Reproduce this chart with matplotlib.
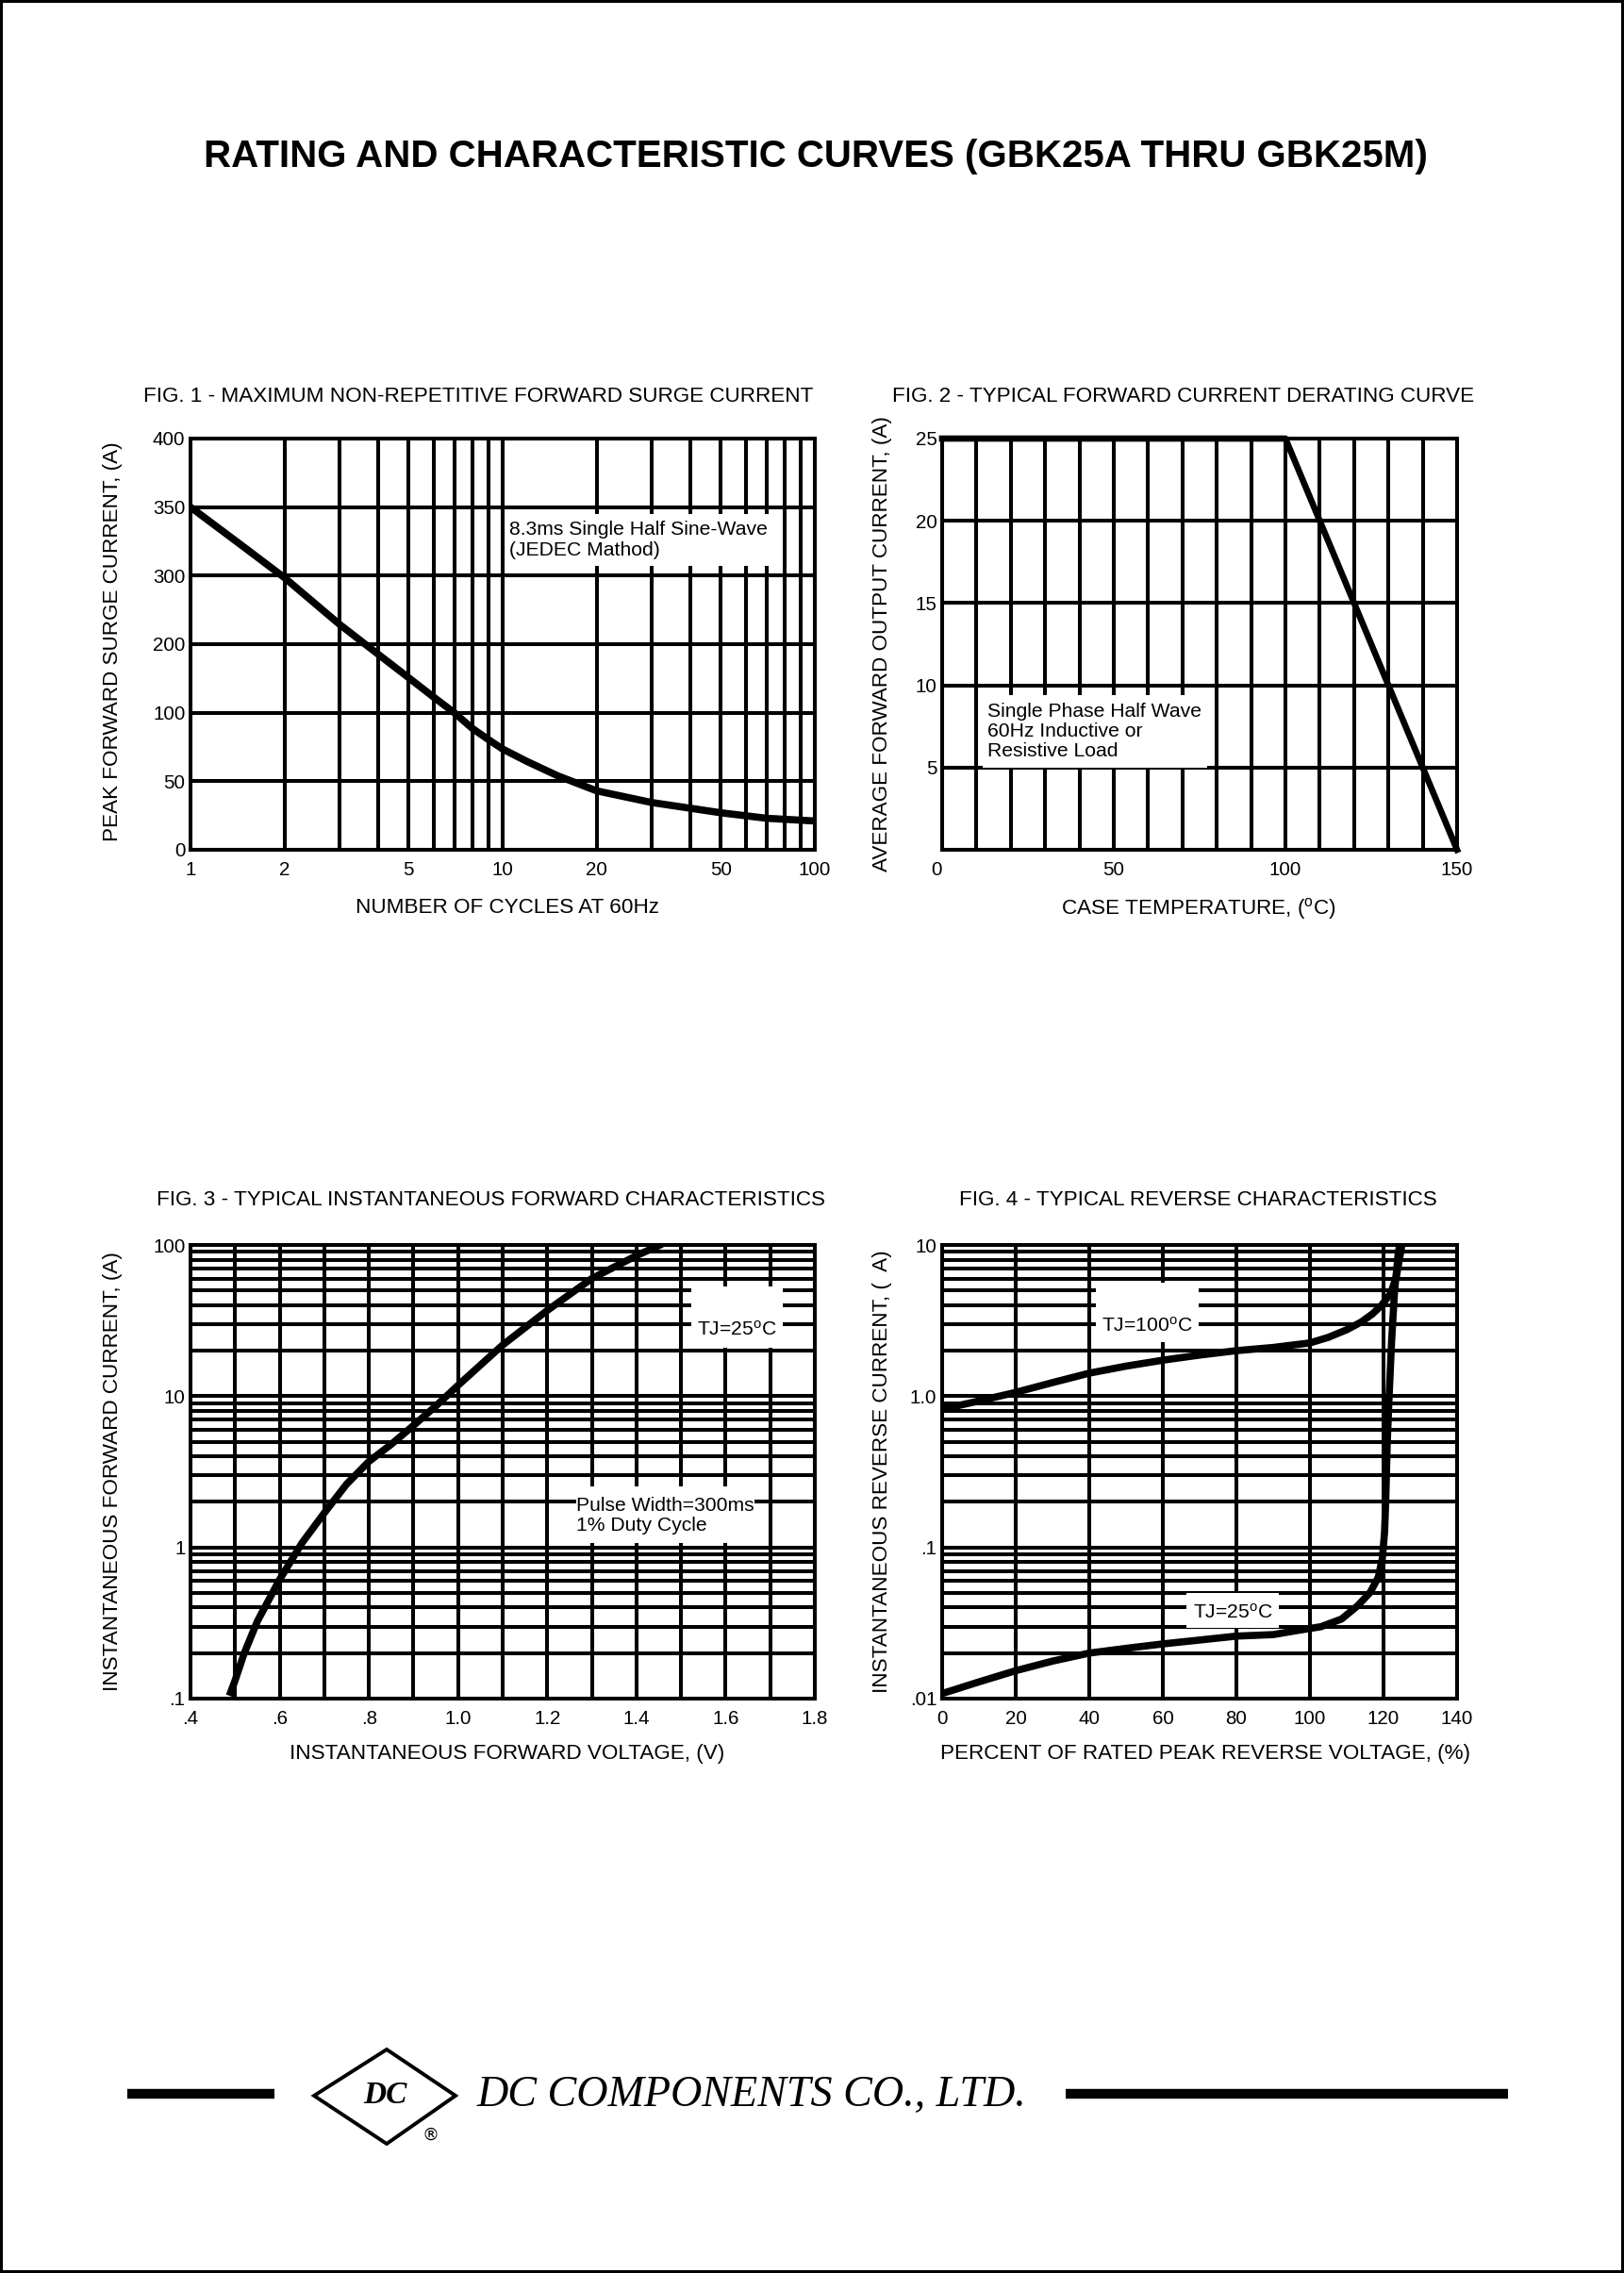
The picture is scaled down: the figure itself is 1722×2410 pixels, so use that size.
import numpy as np
import matplotlib
matplotlib.use('Agg')
import matplotlib.pyplot as plt
from matplotlib.path import Path
from matplotlib.patches import Polygon
from matplotlib.lines import Line2D
from matplotlib.ticker import FixedLocator, FixedFormatter, NullFormatter

plt.rcParams['font.family'] = ['Liberation Sans', 'DejaVu Sans']
plt.rcParams['mathtext.fontset'] = 'custom'
plt.rcParams['mathtext.rm'] = 'Liberation Sans'
plt.rcParams['mathtext.it'] = 'Liberation Sans'

# ---------------- data ----------------
# Fig 1: surge current vs cycles
fig1_cycles = [1, 1.5, 2, 3, 4, 5, 6, 7, 8, 9, 10, 12, 15, 20, 30, 50, 70, 100]
fig1_current = [350, 320, 297, 229, 185, 151, 123, 100, 88.5, 80.4, 73.5, 64.3, 54, 43,
                34.5, 27, 23, 21]
fig1_yticks = [0, 50, 100, 200, 300, 350, 400]
fig1_xticks = [1, 2, 5, 10, 20, 50, 100]
fig1_xminor = [3, 4, 6, 7, 8, 9, 30, 40, 60, 70, 80, 90]

# Fig 2: derating
fig2_temp = [0, 100, 150]
fig2_current = [25, 25, 0]
fig2_xticks = [0, 50, 100, 150]
fig2_xminor = [10, 20, 30, 40, 60, 70, 80, 90, 110, 120, 130, 140]
fig2_yticks = [0, 5, 10, 15, 20, 25]
fig2_ylabels = ['', '5', '10', '15', '20', '25']

# Fig 3: forward characteristics
fig3_voltage = [0.49, 0.5, 0.52, 0.55, 0.6, 0.65, 0.7, 0.75, 0.8, 0.85, 0.9, 0.95,
                1.0, 1.1, 1.2, 1.3, 1.4, 1.45]
fig3_current = [0.11, 0.132, 0.198, 0.325, 0.614, 1.07, 1.69, 2.62, 3.7, 4.8, 6.4, 8.6,
                11.8, 21.8, 36.9, 60, 85, 99]
fig3_xticks = [0.4, 0.6, 0.8, 1.0, 1.2, 1.4, 1.6, 1.8]
fig3_xlabels = ['.4', '.6', '.8', '1.0', '1.2', '1.4', '1.6', '1.8']
fig3_xminor = [0.5, 0.7, 0.9, 1.1, 1.3, 1.5, 1.7]
fig3_yticks = [0.1, 1, 10, 100]
fig3_ylabels = ['.1', '1', '10', '100']

# Fig 4: reverse characteristics
fig4_pct_100 = [0, 10, 20, 30, 40, 50, 60, 70, 80, 90, 100, 105, 110, 114, 117, 119.5,
                122, 123.5, 124.5, 125]
fig4_ir_100 = [0.82, 0.93, 1.06, 1.23, 1.42, 1.58, 1.73, 1.87, 2.0, 2.1, 2.25, 2.45,
               2.75, 3.1, 3.5, 4.0, 4.8, 6.2, 8.5, 10]
fig4_pct_25 = [0, 10, 20, 30, 40, 50, 60, 70, 80, 90, 96.5, 103, 108.6, 113, 116.4,
               118.6, 119.7, 120.3, 120.6, 121, 121.5, 122.2, 123, 124, 124.4]
fig4_ir_25 = [0.0108, 0.0129, 0.0153, 0.0177, 0.020, 0.0215, 0.023, 0.0244, 0.0259,
              0.0265, 0.0282, 0.0299, 0.0336, 0.0412, 0.0505, 0.0637, 0.085, 0.1276,
              0.203, 0.484, 0.97, 2.32, 4.93, 8.8, 10]
fig4_xticks = [0, 20, 40, 60, 80, 100, 120, 140]
fig4_yticks = [0.01, 0.1, 1, 10]
fig4_ylabels = ['.01', '.1', '1.0', '10']

# ---------------- layout ----------------
W, H = 1722, 2410
fig = plt.figure(figsize=(W / 100, H / 100), dpi=100, facecolor='white',
                 edgecolor='black', linewidth=3)


def axes_px(left, top, right, bottom):
    return fig.add_axes([left / W, 1 - bottom / H, (right - left) / W, (bottom - top) / H])


ax1 = axes_px(202, 465, 864, 901)
ax2 = axes_px(999, 465, 1545, 901)
ax3 = axes_px(202, 1320, 864, 1801)
ax4 = axes_px(999, 1320, 1545, 1801)

LW_GRID = 2.9
LW_CURVE = 5.5
FS_TICK = 14.8
FS_NOTE = 15.2
FS_LABEL = 16.2
FS_TITLE = 16.2


def pad_box(padx, pad_bottom, pad_top):
    def box(x0, y0, width, height, mutation_size):
        px = padx * mutation_size
        pb = pad_bottom * mutation_size
        pt = pad_top * mutation_size
        return Path([(x0 - px, y0 - pb), (x0 + width + px, y0 - pb),
                     (x0 + width + px, y0 + height + pt), (x0 - px, y0 + height + pt),
                     (x0 - px, y0 - pb)], closed=True)
    return box


def style(ax):
    ax.set_axisbelow(True)
    for s in ax.spines.values():
        s.set_linewidth(LW_GRID)
        s.set_color('black')
    ax.tick_params(which='both', length=0)
    ax.tick_params(axis='x', which='major', pad=9, labelsize=FS_TICK)
    ax.tick_params(axis='y', which='major', pad=4, labelsize=FS_TICK)
    ax.grid(which='both', color='black', linewidth=LW_GRID)


def boxed_text(ax, x, y, s, ha, padx, pb, pt, fs=FS_NOTE, va='center', ls=1.15):
    ax.text(x, y, s, ha=ha, va=va, fontsize=fs, zorder=3, linespacing=ls,
            bbox=dict(boxstyle=pad_box(padx, pb, pt), facecolor='white', edgecolor='none'))


# ---- Fig 1 ----
pos1 = np.arange(len(fig1_yticks))
ax1.set_xscale('log')
ax1.set_yscale('function', functions=(lambda v: np.interp(v, fig1_yticks, pos1),
                                      lambda p: np.interp(p, pos1, fig1_yticks)))
ax1.set_xlim(1, 100)
ax1.set_ylim(0, 400)
ax1.xaxis.set_major_locator(FixedLocator(fig1_xticks))
ax1.xaxis.set_major_formatter(FixedFormatter([str(v) for v in fig1_xticks]))
ax1.xaxis.set_minor_locator(FixedLocator(fig1_xminor))
ax1.xaxis.set_minor_formatter(NullFormatter())
ax1.yaxis.set_major_locator(FixedLocator(fig1_yticks))
ax1.yaxis.set_major_formatter(FixedFormatter([str(v) for v in fig1_yticks]))
ax1.yaxis.set_minor_locator(FixedLocator([]))
style(ax1)
ax1.plot(fig1_cycles, fig1_current, color='black', lw=LW_CURVE, solid_capstyle='butt',
         solid_joinstyle='round', zorder=2)
boxed_text(ax1, 10.5, 326, '8.3ms Single Half Sine-Wave\n(JEDEC Mathod)', 'left',
           0.2, 0.35, 0.35)

# ---- Fig 2 ----
ax2.set_xlim(0, 150)
ax2.set_ylim(0, 25)
ax2.xaxis.set_major_locator(FixedLocator(fig2_xticks))
ax2.xaxis.set_major_formatter(FixedFormatter([str(v) for v in fig2_xticks]))
ax2.xaxis.set_minor_locator(FixedLocator(fig2_xminor))
ax2.yaxis.set_major_locator(FixedLocator(fig2_yticks))
ax2.yaxis.set_major_formatter(FixedFormatter(fig2_ylabels))
style(ax2)
ax2.get_xticklabels()[0].set_horizontalalignment('right')
ax2.plot(fig2_temp, fig2_current, color='black', lw=4.8, clip_on=False, zorder=2)
boxed_text(ax2, 13.3, 7.2, 'Single Phase Half Wave\n60Hz Inductive or\nResistive Load',
           'left', 0.25, 0.35, 0.35)

# ---- Fig 3 ----
ax3.set_yscale('log')
ax3.set_xlim(0.4, 1.8)
ax3.set_ylim(0.1, 100)
ax3.xaxis.set_major_locator(FixedLocator(fig3_xticks))
ax3.xaxis.set_major_formatter(FixedFormatter(fig3_xlabels))
ax3.xaxis.set_minor_locator(FixedLocator(fig3_xminor))
ax3.yaxis.set_major_locator(FixedLocator(fig3_yticks))
ax3.yaxis.set_major_formatter(FixedFormatter(fig3_ylabels))
ax3.yaxis.set_minor_formatter(NullFormatter())
style(ax3)
ax3.plot(fig3_voltage, fig3_current, color='black', lw=LW_CURVE, solid_joinstyle='round',
         zorder=2)
boxed_text(ax3, 1.625, 27.5, 'TJ=25$^{\\rm o}$C', 'center', 0.3, 0.45, 1.7)
boxed_text(ax3, 1.266, 1.62, 'Pulse Width=300ms\n1% Duty Cycle', 'left', 0.0, 0.4, 0.5)

# ---- Fig 4 ----
ax4.set_yscale('log')
ax4.set_xlim(0, 140)
ax4.set_ylim(0.01, 10)
ax4.xaxis.set_major_locator(FixedLocator(fig4_xticks))
ax4.xaxis.set_major_formatter(FixedFormatter([str(v) for v in fig4_xticks]))
ax4.yaxis.set_major_locator(FixedLocator(fig4_yticks))
ax4.yaxis.set_major_formatter(FixedFormatter(fig4_ylabels))
ax4.yaxis.set_minor_formatter(NullFormatter())
style(ax4)
ax4.plot(fig4_pct_100, fig4_ir_100, color='black', lw=LW_CURVE, solid_joinstyle='round',
         zorder=2)
ax4.plot(fig4_pct_25, fig4_ir_25, color='black', lw=LW_CURVE, solid_joinstyle='round',
         zorder=2)
boxed_text(ax4, 55.8, 2.9, 'TJ=100$^{\\rm o}$C', 'center', 0.3, 0.3, 1.7)
boxed_text(ax4, 79, 0.037, 'TJ=25$^{\\rm o}$C', 'center', 0.3, 0.3, 0.5)

# ---- titles and axis labels ----
fig.text(865 / W, 1 - 166 / H, 'RATING AND CHARACTERISTIC CURVES (GBK25A THRU GBK25M)',
         ha='center', va='center', fontsize=29, fontweight='bold')


def ftext(x, y, s, **kw):
    fig.text(x / W, 1 - y / H, s, ha='center', va='center', **kw)


ftext(507, 421, 'FIG. 1 - MAXIMUM NON-REPETITIVE FORWARD SURGE CURRENT', fontsize=FS_TITLE)
ftext(1255, 421, 'FIG. 2 - TYPICAL FORWARD CURRENT DERATING CURVE', fontsize=FS_TITLE)
ftext(520, 1272, 'FIG. 3 - TYPICAL INSTANTANEOUS FORWARD CHARACTERISTICS', fontsize=FS_TITLE)
ftext(1270, 1272, 'FIG. 4 - TYPICAL REVERSE CHARACTERISTICS', fontsize=FS_TITLE)

ftext(538, 963, 'NUMBER OF CYCLES AT 60Hz', fontsize=FS_LABEL)
ftext(1271, 963, 'CASE TEMPERATURE, ($^{\\rm o}$C)', fontsize=FS_LABEL)
ftext(538, 1859, 'INSTANTANEOUS FORWARD VOLTAGE, (V)', fontsize=FS_LABEL)
ftext(1278, 1859, 'PERCENT OF RATED PEAK REVERSE VOLTAGE, (%)', fontsize=FS_LABEL)

ftext(120, 680, 'PEAK FORWARD SURGE CURRENT, (A)', fontsize=FS_LABEL, rotation=90)
ftext(935, 683, 'AVERAGE FORWARD OUTPUT CURRENT, (A)', fontsize=FS_LABEL, rotation=90)
ftext(120, 1560, 'INSTANTANEOUS FORWARD CURRENT, (A)', fontsize=FS_LABEL, rotation=90)
ftext(935, 1560, 'INSTANTANEOUS REVERSE CURRENT, (  A)', fontsize=FS_LABEL, rotation=90)

# ---- footer ----
fig.add_artist(Line2D([135 / W, 291 / W], [1 - 2220 / H] * 2, color='black', lw=7.5,
                      solid_capstyle='butt'))
fig.add_artist(Line2D([1130 / W, 1599 / W], [1 - 2220 / H] * 2, color='black', lw=7.5,
                      solid_capstyle='butt'))
diamond = [(410, 2173), (483, 2222), (410, 2273), (333, 2222)]
fig.add_artist(Polygon([(x / W, 1 - y / H) for x, y in diamond], closed=True,
                       fill=False, edgecolor='black', lw=2.8, transform=fig.transFigure))
ftext(408, 2222, 'DC', fontsize=24, family='Liberation Serif', style='italic',
      fontweight='bold')
ftext(456, 2264, '®', fontsize=13, family='DejaVu Sans')
fig.text(506 / W, 1 - 2222 / H, 'DC COMPONENTS CO., LTD.', ha='left', va='center',
         fontsize=33.2, family='Liberation Serif', style='italic')

fig.savefig('out.png', dpi=100)
